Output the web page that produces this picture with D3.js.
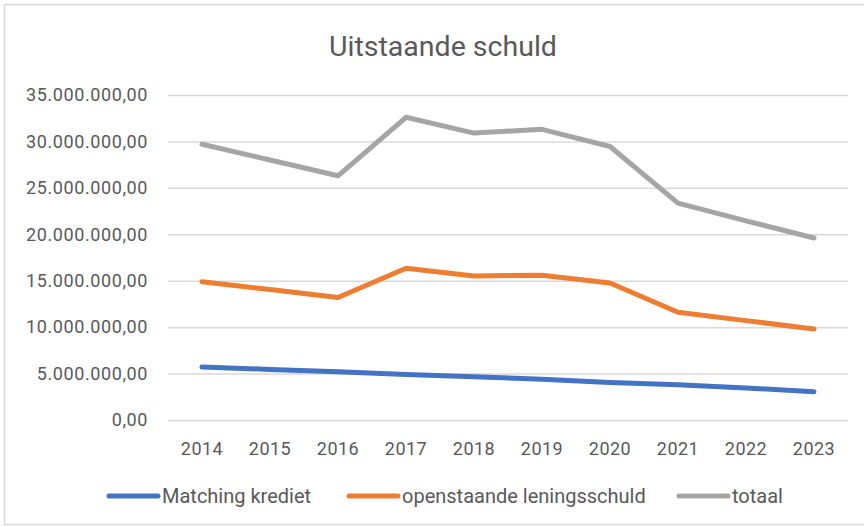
<!DOCTYPE html>
<html>
<head>
<meta charset="utf-8">
<script src="https://cdn.jsdelivr.net/npm/d3@7"></script>
<style>
	body { margin: 0; background: #fff; }
	svg { display: block; font-family: Roboto, sans-serif; }
</style>
</head>
<body>
<svg id="chart" width="864" height="527"></svg>
<script>
// Data
const years = ["2014", "2015", "2016", "2017", "2018", "2019", "2020", "2021", "2022", "2023"];
const matching = [5.7e6, 5.45e6, 5.2e6, 4.9e6, 4.65e6, 4.4e6, 4.05e6, 3.8e6, 3.45e6, 3.05e6];
const lening = [14.9e6, 14.05e6, 13.2e6, 16.35e6, 15.5e6, 15.6e6, 14.75e6, 11.6e6, 10.7e6, 9.8e6];
const totaal = [29.7e6, 28.0e6, 26.3e6, 32.6e6, 30.9e6, 31.3e6, 29.45e6, 23.35e6, 21.45e6, 19.6e6];
const yTicks = [0, 5e6, 10e6, 15e6, 20e6, 25e6, 30e6, 35e6];

const series = [
	{name: "Matching krediet", values: matching, color: "#4472C4"},
	{name: "openstaande leningsschuld", values: lening, color: "#ED7D31"},
	{name: "totaal", values: totaal, color: "#A5A5A5"}
];

const svg = d3.select("#chart");
const plotLeft = 168, plotRight = 848, plotTop = 95, plotBottom = 420;

// chart border
svg.append("rect")
	.attr("x", 4.5).attr("y", 4.5)
	.attr("width", 870).attr("height", 520)
	.attr("fill", "none")
	.attr("stroke", "#D9D9D9")
	.attr("stroke-width", 1.5);

svg.append("text")
	.attr("x", 443).attr("y", 56)
	.attr("text-anchor", "middle")
	.attr("fill", "#595959")
	.style("font-size", "28.5px")
	.text("Uitstaande schuld");

const x = d3.scaleBand().domain(years).range([plotLeft, plotRight]);
const y = d3.scaleLinear().domain([0, 35e6]).range([plotBottom, plotTop]);

const fmt = v => d3.format(",.2f")(v).replace(/,/g, "#").replace(".", ",").replace(/#/g, ".");

// gridlines + y labels
const yAxis = svg.append("g")
	.attr("transform", `translate(${plotLeft},0)`)
	.call(d3.axisLeft(y).tickValues(yTicks).tickFormat(fmt).tickSize(-(plotRight - plotLeft)).tickPadding(20));
yAxis.select(".domain").remove();
yAxis.selectAll(".tick line").attr("stroke", "#D9D9D9").attr("stroke-width", 1.5);
yAxis.selectAll(".tick text").attr("fill", "#595959").style("font-size", "18px")
	.style("font-family", "Roboto, sans-serif").attr("letter-spacing", "0.6px");

// x labels
const xAxis = svg.append("g")
	.attr("transform", `translate(0,${plotBottom})`)
	.call(d3.axisBottom(x).tickSize(0).tickPadding(22));
xAxis.select(".domain").remove();
xAxis.selectAll(".tick text").attr("fill", "#595959").style("font-size", "18px")
	.style("font-family", "Roboto, sans-serif").attr("letter-spacing", "0.5px");

const line = d3.line()
	.x((d, i) => x(years[i]) + x.bandwidth() / 2)
	.y(d => y(d));

svg.selectAll(".series")
	.data(series)
	.join("path")
	.attr("class", "series")
	.attr("d", d => line(d.values))
	.attr("fill", "none")
	.attr("stroke", d => d.color)
	.attr("stroke-width", 5)
	.attr("stroke-linecap", "round")
	.attr("stroke-linejoin", "round");

// legend
const legendX = [107, 347, 677];
const leg = svg.selectAll(".legend")
	.data(series)
	.join("g")
	.attr("class", "legend")
	.attr("transform", (d, i) => `translate(${legendX[i]},496)`);
leg.append("line")
	.attr("x1", 2).attr("x2", 51)
	.attr("stroke", d => d.color)
	.attr("stroke-width", 5)
	.attr("stroke-linecap", "round");
leg.append("text")
	.attr("x", 55).attr("y", 7)
	.attr("fill", "#595959")
	.style("font-size", "20px")
	.text(d => d.name);
</script>
</body>
</html>
